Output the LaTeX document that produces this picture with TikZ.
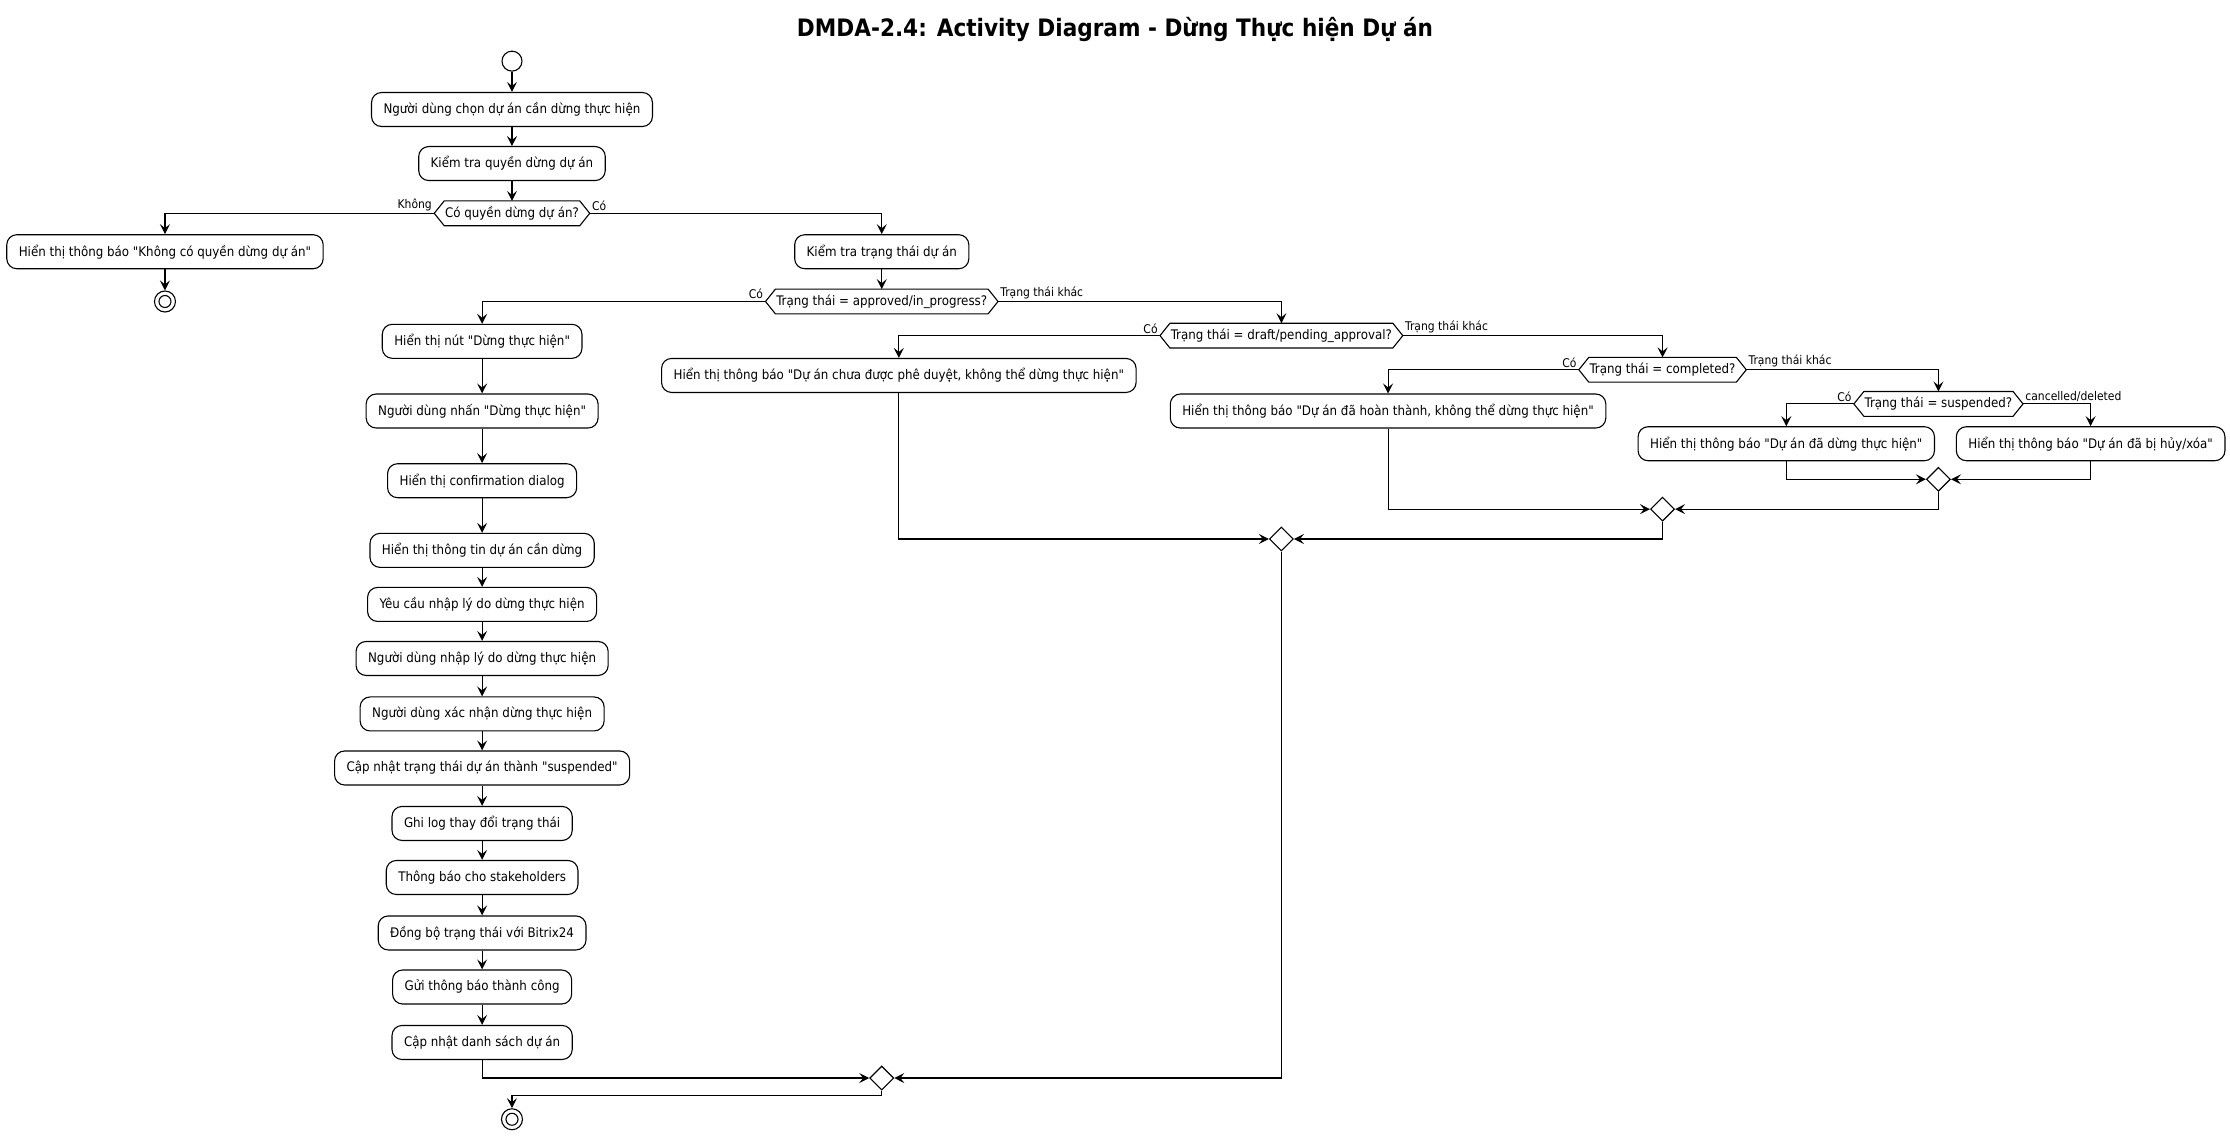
\documentclass[tikz,border=0pt]{standalone}
\usepackage{fontspec}
\setmainfont{DejaVu Sans Condensed}[Ligatures=TeXOff]
\usetikzlibrary{arrows.meta,calc,shapes.geometric}
\newcommand\drawhex[1]{\draw[line] (#1.west) -- ($(#1.north west)+(7,0)$) -- ($(#1.north east)+(-7,0)$) -- (#1.east) -- ($(#1.south east)+(-7,0)$) -- ($(#1.south west)+(7,0)$) -- cycle;}
\begin{document}
\begin{tikzpicture}[x=0.71111pt,y=-0.71111pt,
  line/.style={line width=0.55pt},
  arr/.style={line, -{Stealth[length=5pt,width=5pt,inset=2pt]}},
  act/.style={draw, line width=0.55pt, rounded corners=5pt, minimum height=17pt, inner xsep=6pt, inner ysep=0pt, font=\fontsize{6.6}{8}\selectfont, fill=white},
  dec/.style={minimum height=12pt, inner xsep=5.2pt, inner ysep=0pt, font=\fontsize{6.6}{8}\selectfont},
  lbl/.style={inner sep=1pt, font=\fontsize{6}{7}\selectfont},
  merge/.style={draw, diamond, line width=0.55pt, minimum size=12pt, inner sep=0pt, fill=white},
  startnode/.style={draw, circle, line width=0.55pt, minimum size=10pt, inner sep=0pt},
  endnode/.style={draw, circle, line width=0.55pt, minimum size=10.5pt, inner sep=0pt, path picture={\draw[line width=0.55pt] (path picture bounding box.center) circle (3pt);}}
]
\fill[white] (0,0) rectangle (1568,798.75);
\useasboundingbox (0,0) rectangle (1568,798.75);

\node[font=\fontsize{12}{14}\selectfont\bfseries, anchor=base] (title) at (784,26) {DMDA-2.4: Activity Diagram - Dừng Thực hiện Dự án};

\node[startnode] (start) at (360,43) {};
\node[act] (b1) at (360,77) {Người dùng chọn dự án cần dừng thực hiện};
\node[act] (b2) at (360,115) {Kiểm tra quyền dừng dự án};
\node[dec] (d1) at (360,150) {Có quyền dừng dự án?};
\node[act] (nb) at (116,177) {Hiển thị thông báo "Không có quyền dừng dự án"};
\node[endnode] (e1) at (116,212) {};
\node[act] (ktt) at (620,177) {Kiểm tra trạng thái dự án};
\node[dec] (d2) at (620,212) {Trạng thái = approved/in\_progress?};

\node[act] (a1) at (339,240) {Hiển thị nút "Dừng thực hiện"};
\node[act] (a2) at (339,289) {Người dùng nhấn "Dừng thực hiện"};
\node[act] (a3) at (339,338) {Hiển thị confirmation dialog};
\node[act] (a4) at (339,387) {Hiển thị thông tin dự án cần dừng};
\node[act] (a5) at (339,425) {Yêu cầu nhập lý do dừng thực hiện};
\node[act] (a6) at (339,463) {Người dùng nhập lý do dừng thực hiện};
\node[act] (a7) at (339,502) {Người dùng xác nhận dừng thực hiện};
\node[act] (a8) at (339,540) {Cập nhật trạng thái dự án thành "suspended"};
\node[act] (a9) at (339,579) {Ghi log thay đổi trạng thái};
\node[act] (a10) at (339,617) {Thông báo cho stakeholders};
\node[act] (a11) at (339,656) {Đồng bộ trạng thái với Bitrix24};
\node[act] (a12) at (339,694) {Gửi thông báo thành công};
\node[act] (a13) at (339,733) {Cập nhật danh sách dự án};

\node[dec] (d3) at (901,236) {Trạng thái = draft/pending\_approval?};
\node[act] (n3) at (632,264) {Hiển thị thông báo "Dự án chưa được phê duyệt, không thể dừng thực hiện"};
\node[dec] (d4) at (1169,260) {Trạng thái = completed?};
\node[act] (n4) at (976,289) {Hiển thị thông báo "Dự án đã hoàn thành, không thể dừng thực hiện"};
\node[dec] (d5) at (1363,284) {Trạng thái = suspended?};
\node[act] (n5a) at (1256,312) {Hiển thị thông báo "Dự án đã dừng thực hiện"};
\node[act] (n5b) at (1470,312) {Hiển thị thông báo "Dự án đã bị hủy/xóa"};

\node[merge] (m3) at (1363,337) {};
\node[merge] (m2) at (1169,358) {};
\node[merge] (m1) at (901,379) {};
\node[merge] (m0) at (620,758) {};
\node[endnode] (e2) at (360,787) {};

\foreach \n in {d1,d2,d3,d4,d5} {\drawhex{\n}}

% connectors
\draw[arr] (start) -- (b1);
\draw[arr] (b1) -- (b2);
\draw[arr] (b2) -- (d1);
\draw[arr] (d1.west) -| (nb);
\node[lbl, anchor=south east] (l1) at (d1.west) {Không};
\draw[arr] (nb) -- (e1);
\draw[arr] (d1.east) -| (ktt);
\node[lbl, anchor=south west] (l2) at (d1.east) {Có};
\draw[arr] (ktt) -- (d2);

\draw[arr] (d2.west) -| (a1);
\node[lbl, anchor=south east] (l3) at (d2.west) {Có};
\draw[arr] (a1) -- (a2);
\draw[arr] (a2) -- (a3);
\draw[arr] (a3) -- (a4);
\draw[arr] (a4) -- (a5);
\draw[arr] (a5) -- (a6);
\draw[arr] (a6) -- (a7);
\draw[arr] (a7) -- (a8);
\draw[arr] (a8) -- (a9);
\draw[arr] (a9) -- (a10);
\draw[arr] (a10) -- (a11);
\draw[arr] (a11) -- (a12);
\draw[arr] (a12) -- (a13);
\draw[arr] (a13) |- (m0.west);

\draw[arr] (d2.east) -| (d3);
\node[lbl, anchor=south west] (l4) at (d2.east) {Trạng thái khác};
\draw[arr] (d3.west) -| (n3);
\node[lbl, anchor=south east] (l5) at (d3.west) {Có};
\draw[arr] (n3) |- (m1.west);
\draw[arr] (d3.east) -| (d4);
\node[lbl, anchor=south west] (l6) at (d3.east) {Trạng thái khác};
\draw[arr] (d4.west) -| (n4);
\node[lbl, anchor=south east] (l7) at (d4.west) {Có};
\draw[arr] (n4) |- (m2.west);
\draw[arr] (d4.east) -| (d5);
\node[lbl, anchor=south west] (l8) at (d4.east) {Trạng thái khác};
\draw[arr] (d5.west) -| (n5a);
\node[lbl, anchor=south east] (l9) at (d5.west) {Có};
\draw[arr] (d5.east) -| (n5b);
\node[lbl, anchor=south west] (l10) at (d5.east) {cancelled/deleted};
\draw[arr] (n5a) |- (m3.west);
\draw[arr] (n5b) |- (m3.east);
\draw[arr] (m3.south) |- (m2.east);
\draw[arr] (m2.south) |- (m1.east);
\draw[arr] (m1.south) |- (m0.east);
\draw[arr] (m0.south) -- ++(0,3.5) -| (e2);
\end{tikzpicture}
\end{document}
